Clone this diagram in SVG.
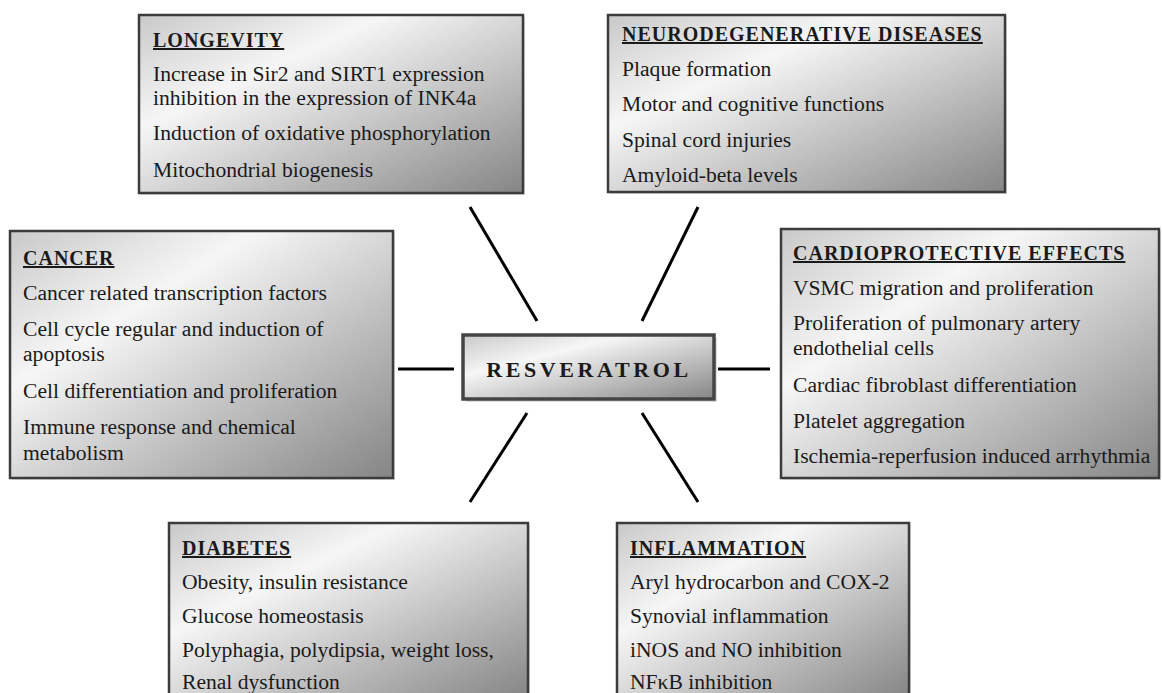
<svg xmlns="http://www.w3.org/2000/svg" width="1162" height="693" viewBox="0 0 1162 693" font-family="Liberation Serif, Times New Roman, serif">
<style>
.box{fill:url(#g);stroke:#3c3c3c;stroke-width:2.5}
.sh{fill:#bdbdbd;opacity:0.5}
text{font-family:'Liberation Serif','Times New Roman',serif;fill:#1a1a1a}
.t{font-size:21.6px}
.h{font-size:20px;font-weight:bold;letter-spacing:1px;text-decoration:underline}
.c{stroke:#000;stroke-width:3;stroke-linecap:butt;fill:none}
</style>
<defs>
<linearGradient id="g" x1="0" y1="0" x2="1" y2="1">
<stop offset="0" stop-color="#c9c9c9"/>
<stop offset="0.32" stop-color="#f6f6f6"/>
<stop offset="1" stop-color="#858585"/>
</linearGradient>
</defs>
<rect width="1162" height="693" fill="#fff"/>
<g id="connectors">
<line class="c" x1="470" y1="207" x2="537" y2="321"/>
<line class="c" x1="698" y1="207" x2="642" y2="321"/>
<line class="c" x1="398" y1="369" x2="454" y2="369"/>
<line class="c" x1="718" y1="369" x2="770" y2="369"/>
<line class="c" x1="527" y1="413" x2="470" y2="502"/>
<line class="c" x1="642" y1="413" x2="698" y2="502"/>
</g>
<g id="longevity">
<rect class="sh" x="141" y="17" width="384" height="178"/>
<rect class="box" x="139" y="15" width="384" height="178"/>
<text class="h" x="153" y="47">LONGEVITY</text>
<text class="t" x="153" y="81">Increase in Sir2 and SIRT1 expression</text>
<text class="t" x="153" y="105">inhibition in the expression of INK4a</text>
<text class="t" x="153" y="140">Induction of oxidative phosphorylation</text>
<text class="t" x="153" y="177">Mitochondrial biogenesis</text>
</g>
<g id="neurodegenerative">
<rect class="sh" x="610" y="17" width="397" height="177"/>
<rect class="box" x="608" y="15" width="397" height="177"/>
<text class="h" x="622" y="41">NEURODEGENERATIVE DISEASES</text>
<text class="t" x="622" y="76">Plaque formation</text>
<text class="t" x="622" y="111">Motor and cognitive functions</text>
<text class="t" x="622" y="147">Spinal cord injuries</text>
<text class="t" x="622" y="182">Amyloid-beta levels</text>
</g>
<g id="cancer">
<rect class="sh" x="12" y="233" width="383" height="247"/>
<rect class="box" x="10" y="231" width="383" height="247"/>
<text class="h" x="23" y="265">CANCER</text>
<text class="t" x="23" y="300">Cancer related transcription factors</text>
<text class="t" x="23" y="336">Cell cycle regular and induction of</text>
<text class="t" x="23" y="361">apoptosis</text>
<text class="t" x="23" y="398">Cell differentiation and proliferation</text>
<text class="t" x="23" y="434">Immune response and chemical</text>
<text class="t" x="23" y="460">metabolism</text>
</g>
<g id="cardioprotective">
<rect class="sh" x="783" y="231" width="378" height="249"/>
<rect class="box" x="781" y="229" width="378" height="249"/>
<text class="h" x="793" y="260">CARDIOPROTECTIVE EFFECTS</text>
<text class="t" x="793" y="295">VSMC migration and proliferation</text>
<text class="t" x="793" y="330">Proliferation of pulmonary artery</text>
<text class="t" x="793" y="355">endothelial cells</text>
<text class="t" x="793" y="392">Cardiac fibroblast differentiation</text>
<text class="t" x="793" y="428">Platelet aggregation</text>
<text class="t" x="793" y="463">Ischemia-reperfusion induced arrhythmia</text>
</g>
<g id="resveratrol">
<rect class="sh" x="466" y="338" width="251" height="64"/>
<rect x="463" y="335" width="251" height="64" fill="url(#g)" stroke="#444" stroke-width="3.5"/>
<text x="589" y="377" text-anchor="middle" font-size="22" font-weight="bold" letter-spacing="3.6">RESVERATROL</text>
</g>
<g id="diabetes">
<rect class="sh" x="171" y="525" width="359" height="175"/>
<rect class="box" x="169" y="523" width="359" height="175"/>
<text class="h" x="182" y="555">DIABETES</text>
<text class="t" x="182" y="589">Obesity, insulin resistance</text>
<text class="t" x="182" y="623">Glucose homeostasis</text>
<text class="t" x="182" y="657">Polyphagia, polydipsia, weight loss,</text>
<text class="t" x="182" y="689">Renal dysfunction</text>
</g>
<g id="inflammation">
<rect class="sh" x="619" y="525" width="292" height="175"/>
<rect class="box" x="617" y="523" width="292" height="175"/>
<text class="h" x="630" y="555">INFLAMMATION</text>
<text class="t" x="630" y="589">Aryl hydrocarbon and COX-2</text>
<text class="t" x="630" y="623">Synovial inflammation</text>
<text class="t" x="630" y="657">iNOS and NO inhibition</text>
<text class="t" x="630" y="689">NFκB inhibition</text>
</g>
</svg>
